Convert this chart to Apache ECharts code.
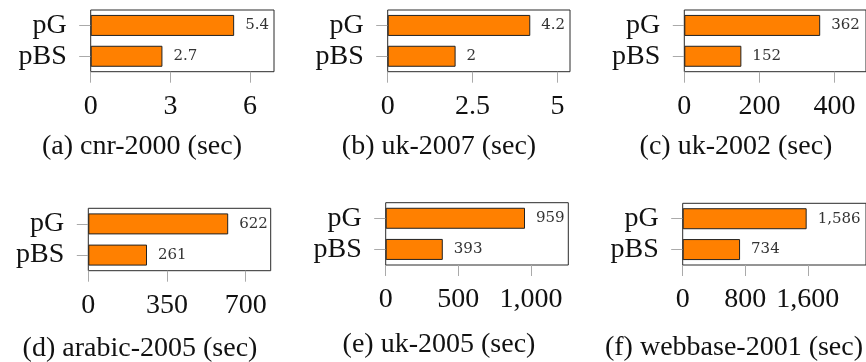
<!DOCTYPE html>
<html>
<head>
<meta charset="utf-8">
<script src="https://cdn.jsdelivr.net/npm/echarts@6/dist/echarts.min.js"></script>
<style>
  html, body { margin: 0; padding: 0; background: #fff; }
  #chart { width: 866px; height: 362px; }
</style>
</head>
<body>
<div id="chart"></div>
<script>
// Run times of the two algorithms on six graphs (seconds)
const categories = ['pBS', 'pG'];
const captions = [
  '(a) cnr-2000 (sec)',
  '(b) uk-2007 (sec)',
  '(c) uk-2002 (sec)',
  '(d) arabic-2005 (sec)',
  '(e) uk-2005 (sec)',
  '(f) webbase-2001 (sec)'
];
const pbsTimes = [2.7, 2, 152, 261, 393, 734];
const pgTimes = [5.4, 4.2, 362, 622, 959, 1586];
const axisMax = [6.9, 5.37, 484, 811, 1257, 2345];
const tickValues = [
  [0, 3, 6],
  [0, 2.5, 5],
  [0, 200, 400],
  [0, 350, 700],
  [0, 500, 1000],
  [0, 800, 1600]
];

// panel boxes: [left, top, width, height] and caption centre [x, y]
const boxes = [
  [90.7, 10, 183.3, 61.7],
  [387.7, 10, 182.3, 61.7],
  [684.3, 10, 184, 61.7],
  [88.3, 208.3, 182.4, 62.4],
  [385.7, 202.7, 182.6, 62.3],
  [682.7, 203.3, 186, 61.7]
];
const captionPos = [
  [142, 147], [439, 147], [736, 147],
  [140, 349], [439, 345], [734, 348]
];

const serif = '"Liberation Serif", "Times New Roman", serif';
const smallSerif = '"DejaVu Serif", serif';
const fmt = v => Number(v).toLocaleString('en-US');

const grid = [], xAxis = [], yAxis = [], series = [], graphic = [];
boxes.forEach((b, i) => {
  grid.push({
    left: b[0], top: b[1], width: b[2], height: b[3],
    show: true, borderColor: '#2a2a2a', borderWidth: 1, backgroundColor: '#fff'
  });
  xAxis.push({
    gridIndex: i, type: 'value', min: 0, max: axisMax[i],
    axisLine: { show: false },
    splitLine: { show: false },
    axisTick: { show: true, length: 11, customValues: tickValues[i],
                lineStyle: { color: '#aaaaaa', width: 1 } },
    axisLabel: { customValues: tickValues[i], formatter: fmt, margin: 21,
                 fontFamily: serif, fontSize: 28, color: '#111' }
  });
  yAxis.push({
    gridIndex: i, type: 'category', data: categories,
    axisLine: { show: false },
    axisTick: { show: true, alignWithLabel: true, length: 11.5, interval: 0,
                lineStyle: { color: '#aaaaaa', width: 1 } },
    axisLabel: { interval: 0, hideOverlap: false, margin: 24,
                 fontFamily: serif, fontSize: 28, color: '#111' }
  });
  series.push({
    type: 'bar', xAxisIndex: i, yAxisIndex: i,
    data: [pbsTimes[i], pgTimes[i]],
    barWidth: 21,
    itemStyle: { color: '#ff8000', borderColor: '#222', borderWidth: 1 },
    label: { show: true, position: 'right', distance: 11,
             formatter: p => fmt(p.value),
             fontFamily: smallSerif, fontSize: 15, color: '#333' },
    silent: true, animation: false
  });
  graphic.push({
    type: 'text', x: captionPos[i][0], y: captionPos[i][1],
    style: { text: captions[i], font: '28px ' + serif, fill: '#111',
             textAlign: 'center', textVerticalAlign: 'middle' }
  });
});

const chart = echarts.init(document.getElementById('chart'), null, { renderer: 'canvas' });
chart.setOption({ animation: false, grid, xAxis, yAxis, series, graphic });
</script>
</body>
</html>
